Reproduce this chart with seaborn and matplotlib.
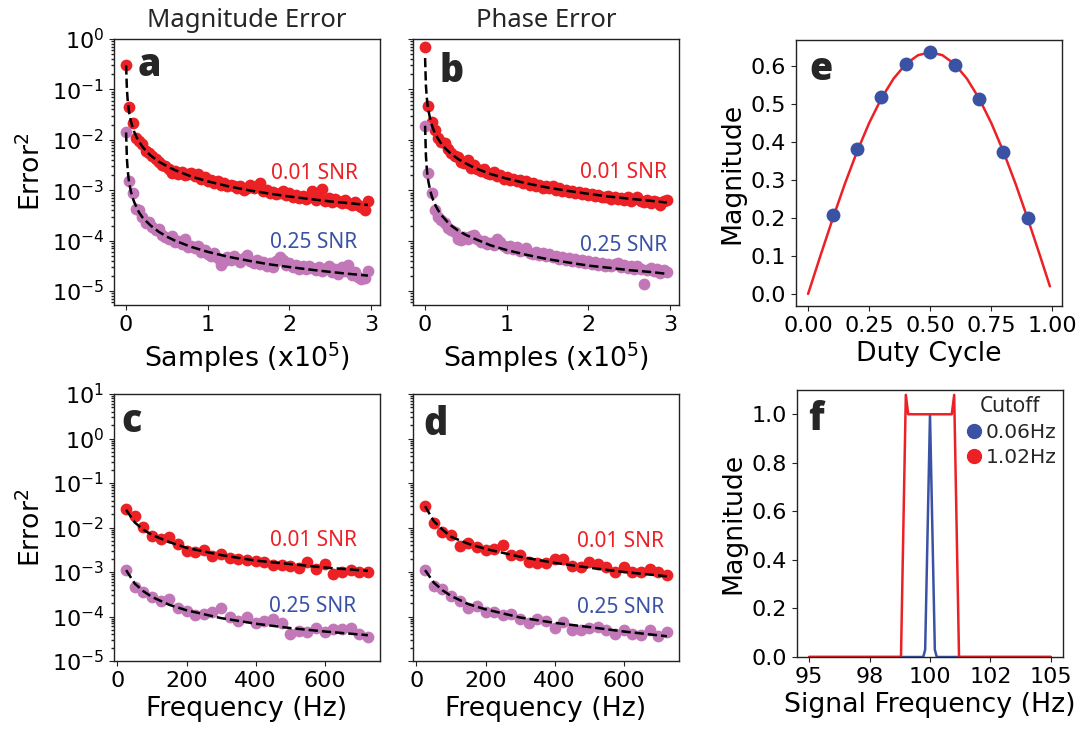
import numpy as np
import pandas as pd
import matplotlib
matplotlib.use("Agg")
import matplotlib.pyplot as plt
import seaborn as sns
from matplotlib.ticker import FormatStrFormatter, LogLocator

# ---------------- data ----------------
samples_x = [0.04 * i for i in range(75)]  # x10^5 samples

mag_red = [0.30, 0.045, 0.022, 0.011, 0.0095, 0.0082, 0.0060, 0.0055, 0.0047, 0.0042,
           0.0037, 0.0031, 0.0030, 0.0026, 0.0022, 0.0024, 0.0021, 0.0023, 0.0020, 0.0021,
           0.0022, 0.0019, 0.0021, 0.0017, 0.0018, 0.0015, 0.0016, 0.0014, 0.0015, 0.0013,
           0.0014, 0.0012, 0.0013, 0.0012, 0.0011, 0.0012, 0.0010, 0.0011, 0.0013, 0.0011,
           0.0012, 0.0014, 0.00095, 0.0010, 0.00088, 0.00092, 0.00085, 0.00090, 0.00097, 0.00080,
           0.00088, 0.00075, 0.00082, 0.00070, 0.00078, 0.00068, 0.00074, 0.00098, 0.00065, 0.00072,
           0.00105, 0.00062, 0.00070, 0.00058, 0.00066, 0.00060, 0.00055, 0.00063, 0.00057, 0.00052,
           0.00059, 0.00050, 0.00046, 0.00041, 0.00062]
mag_purple = [0.014, 0.0015, 0.00090, 0.00042, 0.00040, 0.00030, 0.00022, 0.00024, 0.00019, 0.00016,
              0.00017, 0.00013, 0.00012, 0.00011, 0.000125, 0.000095, 0.00010, 0.000085, 0.00011, 0.000075,
              0.000080, 0.000070, 0.000078, 0.000060, 0.000065, 0.000055, 0.000050, 0.000058, 0.000045, 0.000033,
              0.000040, 0.000048, 0.000042, 0.000050, 0.000044, 0.000038, 0.000046, 0.000052, 0.000040, 0.000036,
              0.000042, 0.000034, 0.000038, 0.000031, 0.000036, 0.000030, 0.000040, 0.000048, 0.000042, 0.000033,
              0.000036, 0.000030, 0.000033, 0.000028, 0.000031, 0.000027, 0.000032, 0.000029, 0.000026, 0.000030,
              0.000025, 0.000028, 0.000032, 0.000024, 0.000027, 0.000022, 0.000030, 0.000025, 0.000033, 0.000021,
              0.000024, 0.000019, 0.000017, 0.000018, 0.000025]
phase_red = [0.70, 0.046, 0.023, 0.016, 0.011, 0.0090, 0.0085, 0.0065, 0.0055, 0.0048,
             0.0045, 0.0036, 0.0034, 0.0040, 0.0028, 0.0031, 0.0026, 0.0024, 0.0027, 0.0022,
             0.0021, 0.0023, 0.0019, 0.0020, 0.0017, 0.0018, 0.0016, 0.0017, 0.0015, 0.0016,
             0.0014, 0.0015, 0.0013, 0.0014, 0.0012, 0.0013, 0.0011, 0.0012, 0.0011, 0.0012,
             0.0010, 0.0011, 0.00098, 0.0010, 0.00092, 0.00096, 0.00088, 0.00094, 0.00085, 0.00090,
             0.00080, 0.00086, 0.00078, 0.00082, 0.00075, 0.00072, 0.00078, 0.00068, 0.00074, 0.00066,
             0.00070, 0.00064, 0.00072, 0.00060, 0.00066, 0.00075, 0.00062, 0.00058, 0.00065, 0.00055,
             0.00062, 0.00058, 0.00052, 0.00060, 0.00064]
phase_purple = [0.019, 0.0022, 0.00087, 0.00041, 0.00030, 0.00026, 0.00022, 0.00018, 0.00016, 0.00015,
                0.00011, 0.000105, 0.00012, 0.00011, 0.000125, 0.00013, 0.00011, 0.000095, 0.00010, 0.000085,
                0.000090, 0.000082, 0.00011, 0.000095, 0.000080, 0.000072, 0.000078, 0.000068, 0.000074, 0.000062,
                0.000065, 0.000070, 0.000058, 0.000055, 0.000060, 0.000052, 0.000056, 0.000050, 0.000054, 0.000047,
                0.000050, 0.000044, 0.000047, 0.000042, 0.000045, 0.000040, 0.000043, 0.000038, 0.000041, 0.000036,
                0.000039, 0.000034, 0.000037, 0.000033, 0.000036, 0.000032, 0.000035, 0.000031, 0.000034, 0.000036,
                0.000030, 0.000033, 0.000029, 0.000032, 0.000028, 0.000031, 0.000027, 0.000014, 0.000026, 0.000029,
                0.000025, 0.000027, 0.000023, 0.000026, 0.000024]

fit_x = [0, 0.01, 0.02, 0.03, 0.04, 0.06, 0.08, 0.1, 0.13, 0.16, 0.2, 0.25, 0.3, 0.4, 0.5,
         0.6, 0.8, 1.0, 1.25, 1.5, 1.75, 2.0, 2.25, 2.5, 2.75, 2.96]
mag_red_fit = [0.30, 0.10, 0.060, 0.043, 0.033, 0.023, 0.0177, 0.0143, 0.0111, 0.0091, 0.0073,
               0.0059, 0.0049, 0.0037, 0.0030, 0.0025, 0.00187, 0.00150, 0.00120, 0.00100,
               0.00086, 0.00075, 0.00067, 0.00060, 0.00055, 0.00051]
mag_purple_fit = [0.014, 0.0042, 0.0025, 0.00175, 0.00135, 0.00093, 0.00071, 0.00058, 0.00045,
                  0.00036, 0.00029, 0.00024, 0.00020, 0.00015, 0.00012, 0.00010, 0.000075, 0.000060,
                  0.000048, 0.000040, 0.000034, 0.000030, 0.0000267, 0.000024, 0.0000218, 0.0000203]
phase_red_fit = [0.42, 0.12, 0.071, 0.050, 0.039, 0.027, 0.020, 0.0163, 0.0127, 0.0104, 0.0083,
                 0.0067, 0.0056, 0.0042, 0.0034, 0.0028, 0.0021, 0.0017, 0.00136, 0.00113,
                 0.00097, 0.00085, 0.00075, 0.00068, 0.00062, 0.00057]
phase_purple_fit = [0.019, 0.0049, 0.0028, 0.0019, 0.0015, 0.00103, 0.00078, 0.00063, 0.00049,
                    0.00040, 0.00032, 0.00026, 0.00021, 0.00016, 0.00013, 0.00011, 0.000081,
                    0.000065, 0.000052, 0.000043, 0.000037, 0.000032, 0.000029, 0.000026,
                    0.000024, 0.000022]

freq = [25 * (i + 1) for i in range(29)]
c_red = [0.0264, 0.0177, 0.0102, 0.0066, 0.0056, 0.0060, 0.0043, 0.0029, 0.0028, 0.0031,
         0.0023, 0.0025, 0.0021, 0.0020, 0.0019, 0.0018, 0.0017, 0.00144, 0.00146, 0.00139,
         0.00123, 0.00165, 0.00115, 0.0015, 0.00090, 0.00098, 0.0011, 0.00098, 0.00102]
c_purple = [0.00112, 0.00045, 0.00035, 0.00028, 0.000225, 0.000244, 0.000155, 0.000134, 0.00011,
            0.000113, 0.000129, 0.000152, 0.0000977, 0.000079, 0.000095, 0.000073, 0.000079,
            0.000087, 0.000072, 0.000041, 0.000048, 0.000045, 0.000055, 0.000044, 0.000052,
            0.000052, 0.000056, 0.000041, 0.0000355]
d_red = [0.0297, 0.0126, 0.0081, 0.0068, 0.0039, 0.0044, 0.0036, 0.0031, 0.0033, 0.0041,
         0.0024, 0.0024, 0.0017, 0.00157, 0.00157, 0.0020, 0.00195, 0.00139, 0.00127, 0.00166,
         0.00152, 0.00132, 0.00102, 0.00127, 0.00102, 0.00102, 0.00117, 0.00098, 0.00087]
d_purple = [0.00111, 0.00049, 0.00041, 0.00029, 0.000224, 0.000158, 0.000174, 0.000129, 0.000123,
            0.000107, 0.000116, 0.000087, 0.000073, 0.000087, 0.000079, 0.000054, 0.000077,
            0.000049, 0.000049, 0.000054, 0.000058, 0.000049, 0.000041, 0.000049, 0.000041,
            0.000038, 0.000049, 0.000036, 0.000046]

freq_fit = [25, 50, 75, 100, 150, 200, 300, 400, 500, 600, 725]
c_red_fit = [0.025, 0.013, 0.0089, 0.0068, 0.0047, 0.0035, 0.0024, 0.0018, 0.00151, 0.00126, 0.00106]
c_purple_fit = [0.0011, 0.00055, 0.00037, 0.000275, 0.000183, 0.000138, 0.000092, 0.000069,
                0.000055, 0.000046, 0.000038]
d_red_fit = [0.030, 0.014, 0.0090, 0.0062, 0.0043, 0.0033, 0.0022, 0.0016, 0.00125, 0.00100, 0.00080]
d_purple_fit = [0.0011, 0.00058, 0.00039, 0.00029, 0.00019, 0.000145, 0.000095, 0.000072,
                0.000058, 0.000046, 0.000036]

duty = [0.1, 0.2, 0.3, 0.4, 0.5, 0.6, 0.7, 0.8, 0.9]
duty_mag = [0.208, 0.381, 0.519, 0.606, 0.637, 0.604, 0.514, 0.374, 0.199]
duty_curve_x = [0, 0.05, 0.10, 0.15, 0.20, 0.25, 0.30, 0.35, 0.40, 0.45, 0.50,
                0.55, 0.60, 0.65, 0.70, 0.75, 0.80, 0.85, 0.90, 0.95, 0.99]
duty_curve_y = [0.0, 0.0996, 0.1967, 0.2890, 0.3742, 0.4502, 0.5150, 0.5672, 0.6055, 0.6288,
                0.6366, 0.6288, 0.6055, 0.5672, 0.5150, 0.4502, 0.3742, 0.2890, 0.1967,
                0.0996, 0.0200]

f_blue_x = [95, 99.72, 99.8, 100.0, 100.2, 100.28, 105]
f_blue_y = [0, 0, 0.03, 1.0, 0.03, 0, 0]
f_red_x = [95, 98.8, 99.0, 99.1, 100.9, 101.0, 101.2, 105]
f_red_y = [0, 0, 1.08, 1.0, 1.0, 1.08, 0, 0]
cutoff_labels = ["0.06Hz", "1.02Hz"]

# ---------------- style ----------------
sns.set_theme(style="ticks")
plt.rcParams.update({
    "font.family": ["DejaVu Sans"],
    "axes.edgecolor": "#222222",
    "axes.linewidth": 1.0,
    "xtick.color": "#222222",
    "ytick.color": "#222222",
    "xtick.labelcolor": "black",
    "ytick.labelcolor": "black",
    "xtick.major.size": 3.5,
    "ytick.major.size": 3.5,
    "xtick.minor.size": 2,
    "ytick.minor.size": 2,
    "xtick.major.width": 0.8,
    "ytick.major.width": 0.8,
    "xtick.labelsize": 16,
    "ytick.labelsize": 16,
    "axes.labelsize": 19.3,
    "axes.labelcolor": "black",
    "mathtext.fontset": "dejavusans",
})

RED = "#EC2125"
PURPLE = "#C278B8"
BLUE = "#3A52A4"
HUM = "Noto Sans"

fig = plt.figure(figsize=(10.83, 7.33), dpi=100)
W, H = 1083, 733

def add_ax(l, t, r, b):
    return fig.add_axes([l / W, 1 - b / H, (r - l) / W, (b - t) / H])

ax_a = add_ax(114, 39, 380, 305)
ax_b = add_ax(413, 39, 679, 305)
ax_e = add_ax(796, 40, 1062, 306)
ax_c = add_ax(114, 394, 380, 661)
ax_d = add_ax(413, 394, 679, 661)
ax_f = add_ax(797, 390, 1063, 657)

DOT = 72


def err_panel(ax, x, yr, yp, fx, fr, fp, ylim, letter, lpos, t1, t2, showy):
    ax.set_yscale("log")
    sns.scatterplot(x=x, y=yr, ax=ax, color=RED, s=DOT, linewidth=0, zorder=2)
    sns.scatterplot(x=x, y=yp, ax=ax, color=PURPLE, s=DOT, linewidth=0, zorder=2)
    sns.lineplot(x=fx, y=fr, ax=ax, color="black", linestyle="--", lw=1.8,
                 estimator=None, sort=False, zorder=3)
    sns.lineplot(x=fx, y=fp, ax=ax, color="black", linestyle="--", lw=1.8,
                 estimator=None, sort=False, zorder=3)
    ax.set_ylim(*ylim)
    ax.yaxis.set_major_locator(LogLocator(base=10, numticks=20))
    ax.yaxis.set_minor_locator(LogLocator(base=10, subs=np.arange(2, 10), numticks=20))
    if not showy:
        ax.tick_params(axis="y", labelleft=False)
    ax.text(lpos[0], lpos[1], letter, transform=ax.transAxes, fontsize=27,
            fontweight="heavy", family="Open Sans", ha="left", va="baseline")
    ax.text(t1[0], t1[1], "0.01 SNR", transform=ax.transAxes, fontsize=15,
            color=RED, family=HUM, ha="right", va="baseline")
    ax.text(t2[0], t2[1], "0.25 SNR", transform=ax.transAxes, fontsize=15,
            color=BLUE, family=HUM, ha="right", va="baseline")


err_panel(ax_a, samples_x, mag_red, mag_purple, fit_x, mag_red_fit, mag_purple_fit,
          (5.3e-6, 1.0), "a", (0.088, 0.861), (0.915, 0.473), (0.915, 0.213), True)
err_panel(ax_b, samples_x, phase_red, phase_purple, fit_x, phase_red_fit, phase_purple_fit,
          (5.3e-6, 1.0), "b", (0.1, 0.839), (0.956, 0.476), (0.956, 0.204), False)
err_panel(ax_c, freq, c_red, c_purple, freq_fit, c_red_fit, c_purple_fit,
          (1e-5, 10), "c", (0.029, 0.859), (0.912, 0.431), (0.912, 0.185), True)
err_panel(ax_d, freq, d_red, d_purple, freq_fit, d_red_fit, d_purple_fit,
          (1e-5, 10), "d", (0.039, 0.846), (0.944, 0.426), (0.944, 0.179), False)

for ax in (ax_a, ax_b):
    ax.set_xlabel("Samples (x10$^5$)")
    ax.set_xticks([0, 1, 2, 3])
for ax in (ax_c, ax_d):
    ax.set_xlabel("Frequency (Hz)")
    ax.set_xticks([0, 200, 400, 600])
for ax in (ax_a, ax_c):
    ax.set_ylabel("Error$^2$")
for ax in (ax_b, ax_d):
    ax.set_ylabel("")
ax_a.set_title("Magnitude Error", family=HUM, fontsize=18.5, pad=9)
ax_b.set_title("Phase Error", family=HUM, fontsize=18.5, pad=9)

# panel e
sns.lineplot(x=duty_curve_x, y=duty_curve_y, ax=ax_e, color=RED, lw=1.8,
             estimator=None, sort=False, zorder=2)
sns.scatterplot(x=duty, y=duty_mag, ax=ax_e, color=BLUE, s=100, linewidth=0, zorder=3)
ax_e.set_xlabel("Duty Cycle")
ax_e.set_ylabel("Magnitude")
ax_e.set_xticks([0, 0.25, 0.5, 0.75, 1.0])
ax_e.xaxis.set_major_formatter(FormatStrFormatter("%.2f"))
ax_e.set_yticks([0, 0.1, 0.2, 0.3, 0.4, 0.5, 0.6])
ax_e.yaxis.set_major_formatter(FormatStrFormatter("%.1f"))
ax_e.text(0.049, 0.85, "e", transform=ax_e.transAxes, fontsize=27, fontweight="heavy",
          family="Open Sans", ha="left", va="baseline")

# panel f
sns.lineplot(x=f_blue_x, y=f_blue_y, ax=ax_f, color=BLUE, lw=1.8, estimator=None, sort=False)
sns.lineplot(x=f_red_x, y=f_red_y, ax=ax_f, color=RED, lw=1.8, estimator=None, sort=False)
ax_f.set_ylim(0, 1.1)
ax_f.set_xlim(94.5, 105.5)
ax_f.set_xticks([95, 97.5, 100, 102.5, 105])
ax_f.xaxis.set_major_formatter(FormatStrFormatter("%.0f"))
ax_f.set_yticks([0, 0.2, 0.4, 0.6, 0.8, 1.0])
ax_f.yaxis.set_major_formatter(FormatStrFormatter("%.1f"))
ax_f.set_xlabel("Signal Frequency (Hz)")
ax_f.set_ylabel("Magnitude")
ax_f.text(0.042, 0.85, "f", transform=ax_f.transAxes, fontsize=27, fontweight="heavy",
          family="Open Sans", ha="left", va="baseline")
handles = [plt.Line2D([], [], marker="o", ls="", color=c, markersize=10) for c in (BLUE, RED)]
leg = ax_f.legend(handles, cutoff_labels, title="Cutoff", loc="upper right", frameon=False,
                  fontsize=14.5, handletextpad=0.1, borderaxespad=0.1, labelspacing=0.3,
                  handlelength=1.0, borderpad=0.2)
leg.get_title().set_family(HUM)
leg.get_title().set_fontsize(15)

fig.savefig("out.png", dpi=100)
